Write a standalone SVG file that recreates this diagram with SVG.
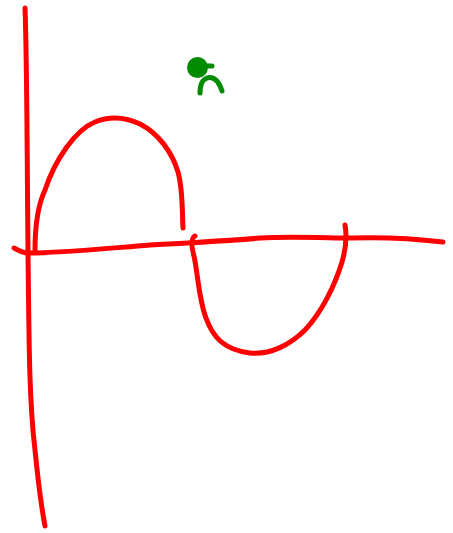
<svg xmlns="http://www.w3.org/2000/svg" width="453" height="533" viewBox="0 0 453 533">
<style>
.r{fill:none;stroke:#ff0000;stroke-width:5;stroke-linecap:round;stroke-linejoin:round}
.g{fill:none;stroke:#008a00;stroke-width:5;stroke-linecap:round}
</style>
<rect width="453" height="533" fill="#ffffff"/>
<g id="sketch">
<path class="r" d="M25,8 C27,60 27,150 28,250 C29,340 29,400 35,450 C38,480 41,505 45,526"/>
<path class="r" d="M14,248 C18,250 22,253 28,253 C60,253 100,249 150,245 C200,242 230,241 260,238 C290,236 330,238 350,238 C380,237 410,238 443,242"/>
<path class="r" d="M35,250 C35,225 38,205 45,190 C55,160 75,130 95,122 C110,116 125,117 140,124 C158,133 172,152 178,172 C183,190 182,210 183,228"/>
<path class="r" d="M195,236 C191,238 191,245 194,256 C198,275 199,300 206,318 C213,338 225,350 250,353 C270,355 290,345 305,330 C322,312 335,285 342,262 C346,248 347,236 345,225"/>
</g>
<g id="figure">
<circle cx="197.5" cy="67.5" r="10.5" fill="#008a00"/>
<path class="g" d="M206,66 L212,66" stroke-width="4"/>
<path class="g" d="M200,93 C200,86 201,80 207,78 C214,76 219,82 222,91"/>
</g>
</svg>
